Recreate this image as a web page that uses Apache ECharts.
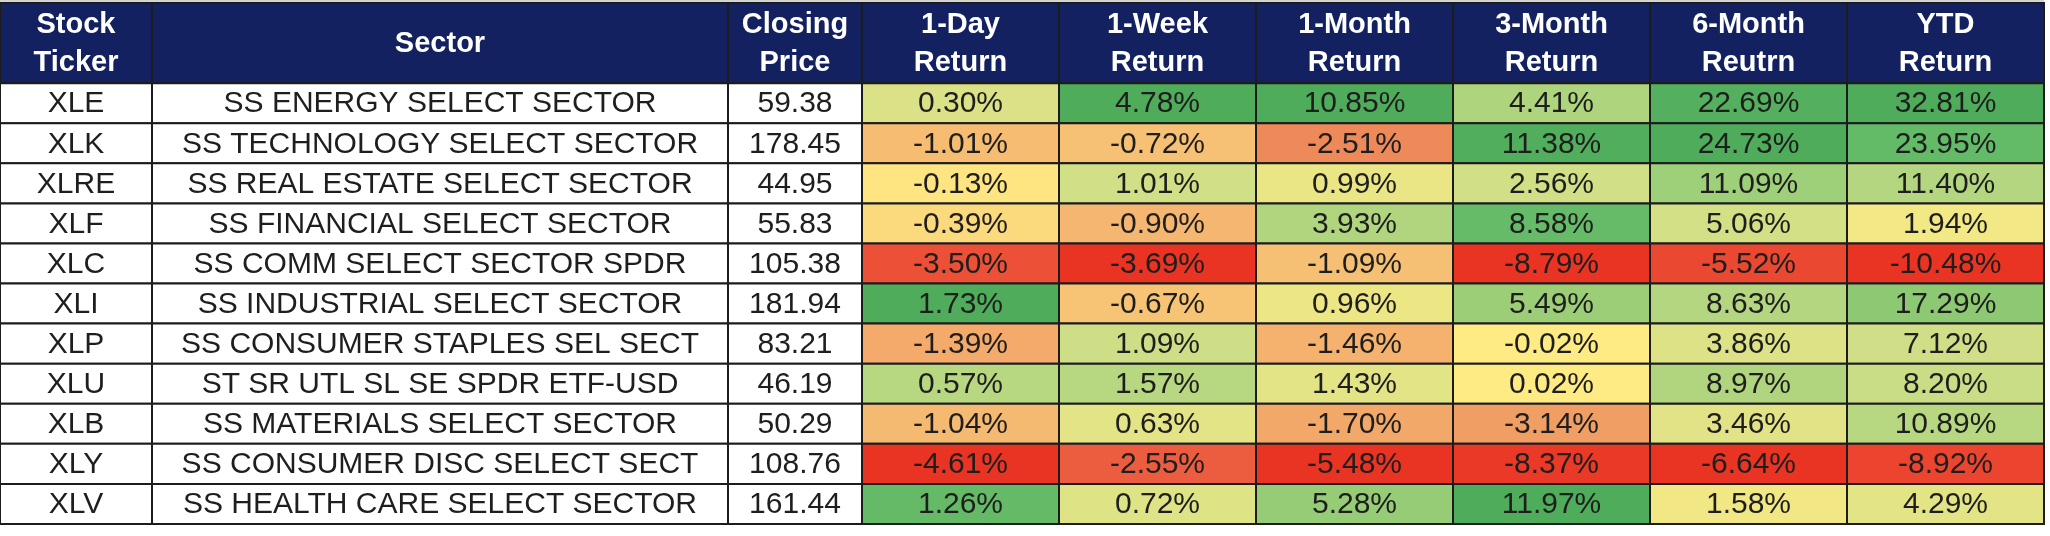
<!DOCTYPE html>
<html>
<head>
<meta charset="utf-8">
<script src="https://cdn.jsdelivr.net/npm/echarts@6/dist/echarts.min.js"></script>
<style>
  html, body { margin: 0; padding: 0; background: #fff; }
  #main { width: 2050px; height: 536px; }
</style>
</head>
<body>
<div id="main"></div>
<script type="text/javascript">
    // table content
    var headers = ['Stock\nTicker', 'Sector', 'Closing\nPrice', '1-Day\nReturn', '1-Week\nReturn',
                   '1-Month\nReturn', '3-Month\nReturn', '6-Month\nReutrn', 'YTD\nReturn'];
    var tickers = ['XLE', 'XLK', 'XLRE', 'XLF', 'XLC', 'XLI', 'XLP', 'XLU', 'XLB', 'XLY', 'XLV'];
    var sectors = ['SS ENERGY SELECT SECTOR', 'SS TECHNOLOGY SELECT SECTOR', 'SS REAL ESTATE SELECT SECTOR',
                   'SS FINANCIAL SELECT SECTOR', 'SS COMM SELECT SECTOR SPDR', 'SS INDUSTRIAL SELECT SECTOR',
                   'SS CONSUMER STAPLES SEL SECT', 'ST SR UTL SL SE SPDR ETF-USD', 'SS MATERIALS SELECT SECTOR',
                   'SS CONSUMER DISC SELECT SECT', 'SS HEALTH CARE SELECT SECTOR'];
    var closingPrices = [59.38, 178.45, 44.95, 55.83, 105.38, 181.94, 83.21, 46.19, 50.29, 108.76, 161.44];
    var oneDay     = [0.30, -1.01, -0.13, -0.39, -3.50, 1.73, -1.39, 0.57, -1.04, -4.61, 1.26];
    var oneWeek    = [4.78, -0.72, 1.01, -0.90, -3.69, -0.67, 1.09, 1.57, 0.63, -2.55, 0.72];
    var oneMonth   = [10.85, -2.51, 0.99, 3.93, -1.09, 0.96, -1.46, 1.43, -1.70, -5.48, 5.28];
    var threeMonth = [4.41, 11.38, 2.56, 8.58, -8.79, 5.49, -0.02, 0.02, -3.14, -8.37, 11.97];
    var sixMonth   = [22.69, 24.73, 11.09, 5.06, -5.52, 8.63, 3.86, 8.97, 3.46, -6.64, 1.58];
    var ytd        = [32.81, 23.95, 11.40, 1.94, -10.48, 17.29, 7.12, 8.20, 10.89, -8.92, 4.29];
    var returnCols = [oneDay, oneWeek, oneMonth, threeMonth, sixMonth, ytd];

    // red -> yellow -> green scale, evenly spaced stops from -1 (column min) to 1 (column max)
    var scaleColors = ['#E93323', '#EC5239', '#ED8054', '#F4B570', '#FFEB84',
                       '#C9DD87', '#93CB75', '#5FB866', '#4EAC5B'];

    // layout: column widths in px, header takes two row units
    var colWidths = [152, 576, 134, 197, 197, 197, 197, 197, 197];
    var colEdges = [0];
    colWidths.forEach(function (w, i) { colEdges.push(colEdges[i] + w); });
    var headerRows = 2;
    var font = '"Liberation Sans", Arial, sans-serif';

    // text cells: header + first three columns
    var textCells = [];
    headers.forEach(function (h, c) {
        textCells.push({ value: [c, 0, headerRows], label: h, head: true });
    });
    tickers.forEach(function (t, i) {
        var r = headerRows + i;
        textCells.push({ value: [0, r, 1], label: t });
        textCells.push({ value: [1, r, 1], label: sectors[i] });
        textCells.push({ value: [2, r, 1], label: closingPrices[i].toFixed(2) });
    });

    // return cells: value scaled to the column's min (-1) / 0 / max (1)
    var returnCells = [];
    returnCols.forEach(function (col, k) {
        var lo = Math.min.apply(null, col), hi = Math.max.apply(null, col);
        col.forEach(function (v, i) {
            var norm = v < 0 ? -v / lo : v / hi;
            returnCells.push([3 + k, headerRows + i, v, norm]);
        });
    });

    function cellRect(api, c, r, span) {
        var p0 = api.coord([colEdges[c], r]);
        var p1 = api.coord([colEdges[c + 1], r + span]);
        return { x: p0[0], y: p0[1], width: p1[0] - p0[0], height: p1[1] - p0[1] };
    }

    var myChart = echarts.init(document.getElementById('main'), null, { renderer: 'canvas' });
    myChart.setOption({
        animation: false,
        graphic: [{
            type: 'rect', left: 0, top: 0,
            shape: { width: colEdges[colEdges.length - 1], height: 3 },
            style: { fill: '#d4d4d4' }
        }],
        grid: { left: 0, right: 2050 - colEdges[colEdges.length - 1], top: 3, bottom: 12 },
        xAxis: { type: 'value', min: 0, max: colEdges[colEdges.length - 1], show: false },
        yAxis: { type: 'value', min: 0, max: headerRows + tickers.length, inverse: true, show: false },
        visualMap: {
            show: false,
            seriesIndex: 1,
            dimension: 3,
            min: -1,
            max: 1,
            inRange: { color: scaleColors }
        },
        series: [
            {
                type: 'custom',
                data: textCells,
                renderItem: function (params, api) {
                    var cell = textCells[params.dataIndex];
                    var rc = cellRect(api, api.value(0), api.value(1), api.value(2));
                    return {
                        type: 'group',
                        children: [
                            {
                                type: 'rect', shape: rc,
                                style: { fill: cell.head ? '#142161' : '#fff', stroke: '#1c1c1c', lineWidth: 2 }
                            },
                            {
                                type: 'text',
                                style: {
                                    text: cell.label,
                                    x: rc.x + rc.width / 2,
                                    y: rc.y + rc.height / 2 + 1,
                                    align: 'center',
                                    verticalAlign: 'middle',
                                    font: (cell.head ? 'bold 29px ' : '30px ') + font,
                                    lineHeight: 38,
                                    fill: cell.head ? '#fff' : '#1e1e1e'
                                }
                            }
                        ]
                    };
                }
            },
            {
                type: 'custom',
                data: returnCells,
                renderItem: function (params, api) {
                    var rc = cellRect(api, api.value(0), api.value(1), 1);
                    return {
                        type: 'group',
                        children: [
                            {
                                type: 'rect', shape: rc,
                                style: { fill: api.visual('color'), stroke: '#1c1c1c', lineWidth: 2 }
                            },
                            {
                                type: 'text',
                                style: {
                                    text: api.value(2).toFixed(2) + '%',
                                    x: rc.x + rc.width / 2,
                                    y: rc.y + rc.height / 2 + 1,
                                    align: 'center',
                                    verticalAlign: 'middle',
                                    font: '30px ' + font,
                                    fill: '#1e1e1e'
                                }
                            }
                        ]
                    };
                }
            }
        ]
    });
</script>
</body>
</html>
